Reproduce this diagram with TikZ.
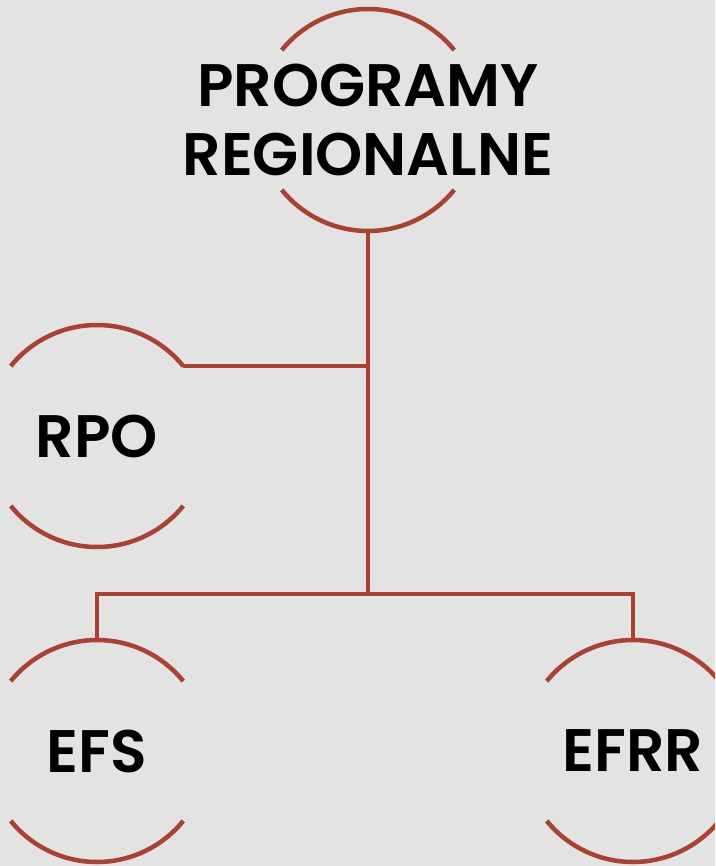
\documentclass[tikz,border=0pt]{standalone}
\usepackage{fontspec}
\setsansfont{Poppins}[BoldFont={Poppins SemiBold}]
\definecolor{bgGray}{HTML}{E3E3E3}
\definecolor{rust}{HTML}{A84333}
\tikzset{
  ring/.style={inner sep=0pt,outer sep=0pt,
    font=\sffamily\bfseries\fontsize{60}{69}\selectfont,align=center},
  link/.style={draw=rust,line width=4.5pt}
}
\def\R{111}
% top and bottom arcs of a ring node, plus its top/bottom points
\newcommand{\ringarcs}[1]{%
  \draw[link] ([shift={(39:\R)}]#1.center) arc (39:141:\R);
  \draw[link] ([shift={(-141:\R)}]#1.center) arc (-141:-39:\R);
  \coordinate (#1-top) at ([yshift=\R]#1.center);
  \coordinate (#1-bot) at ([yshift=-\R]#1.center);
  \coordinate (#1-ne) at ([shift={(39:\R)}]#1.center);
}
\begin{document}
\begin{tikzpicture}[x=1pt,y=1pt]
\fill[bgGray] (0,0) rectangle (715,-866);
\useasboundingbox (0,0) rectangle (715,-866);
\clip (0,0) rectangle (715,-866);

\node[ring] (prog) at (368,-120) {PROGRAMY\\REGIONALNE};
\node[ring] (rpo)  at (97,-436)  {RPO};
\node[ring] (efs)  at (97,-751)  {EFS};
\node[ring] (efrr) at (633,-751) {EFRR};

\foreach \n in {prog,rpo,efs,efrr} { \ringarcs{\n} }

\coordinate (split) at (prog-bot |- 0,-594);
\draw[link] (prog-bot) -- (split);
\draw[link] (rpo-ne) -- (rpo-ne -| prog-bot);
\draw[link] (efs-top) |- (split) -| (efrr-top);
\end{tikzpicture}
\end{document}
